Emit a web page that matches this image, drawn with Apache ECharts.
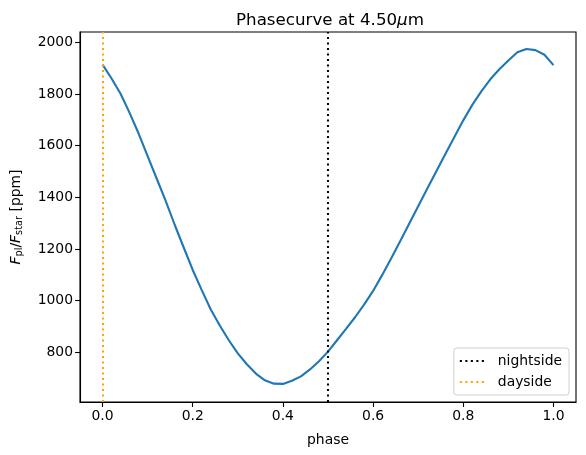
<!DOCTYPE html>
<html>
<head>
<meta charset="utf-8">
<script src="https://cdn.jsdelivr.net/npm/echarts@6/dist/echarts.min.js"></script>
<style>html,body{margin:0;padding:0;background:#fff;}#c{width:586px;height:455px;}</style>
</head>
<body>
<div id="c"></div>
<script>
const phase = [0.00,0.02,0.04,0.06,0.08,0.10,0.12,0.14,0.16,0.18,0.20,0.22,0.24,0.26,0.28,0.30,0.32,0.34,0.36,0.38,0.40,0.42,0.44,0.46,0.48,0.50,0.52,0.54,0.56,0.58,0.60,0.62,0.64,0.66,0.68,0.70,0.72,0.74,0.76,0.78,0.80,0.82,0.84,0.86,0.88,0.90,0.92,0.94,0.96,0.98,1.00];
const flux = [1914,1860,1801,1727,1647,1560,1473,1386,1294,1206,1119,1041,966,904,847,796,754,718,692,679,678,690,707,734,766,803,847,891,936,985,1038,1099,1163,1230,1298,1366,1433,1500,1567,1633,1698,1758,1810,1857,1896,1930,1962,1974,1970,1952,1912];
const nightsidePhase = [0.5];
const daysidePhase = [0.0];
const xTicks = [0.0,0.2,0.4,0.6,0.8,1.0];
const yTicks = [800,1000,1200,1400,1600,1800,2000];

const FONT = 'DejaVu Sans';
const FS = 13.9;
const dotted = [2.1,3.4];
const chart = echarts.init(document.getElementById('c'), null, {renderer:'canvas'});
chart.setOption({
  animation: false,
  backgroundColor: '#fff',
  textStyle: {fontFamily: FONT},
  title: {
    text: '{n|Phasecurve at 4.50}{i|μ}{n|m}',
    left: 325, top: 7, textAlign: 'center',
    textStyle: {
      fontWeight: 'normal',
      rich: {
        n: {fontFamily: FONT, fontSize: 16.7, fontWeight: 'normal', color: '#000'},
        i: {fontFamily: FONT, fontSize: 16.7, fontWeight: 'normal', fontStyle: 'italic', color: '#000'}
      }
    }
  },
  grid: {left: 80, top: 32, right: 10, bottom: 53, show: true, borderColor: '#000', borderWidth: 1.1, backgroundColor: 'transparent'},
  legend: {
    orient: 'vertical', right: 17, bottom: 60,
    data: ['nightside','dayside'],
    backgroundColor: 'rgba(255,255,255,0.8)', borderColor: '#d0d0d0', borderWidth: 1, borderRadius: 3,
    padding: [6, 7, 6, 5], itemGap: 7, itemWidth: 25, itemHeight: 12,
    itemStyle: {opacity: 0},
    textStyle: {fontFamily: FONT, fontSize: FS, color: '#000', padding: [0,0,0,8]}
  },
  xAxis: {
    type: 'value', min: -0.05, max: 1.05,
    name: 'phase', nameLocation: 'middle', nameGap: 31,
    nameTextStyle: {fontFamily: FONT, fontSize: FS, color: '#000'},
    axisLine: {show: true, onZero: false, lineStyle: {color: '#000', width: 1.1}},
    axisTick: {show: true, customValues: xTicks, length: 4.9, lineStyle: {color: '#000', width: 1.1}},
    axisLabel: {customValues: xTicks, formatter: v => v.toFixed(1), fontFamily: FONT, fontSize: FS, color: '#000', margin: 7},
    splitLine: {show: false}
  },
  yAxis: {
    type: 'value', min: 608, max: 2040,
    name: '{i|F}{s|pl}{n|/}{i|F}{s|star}{n| [ppm]}', nameLocation: 'middle', nameGap: 56, nameRotate: 90,
    nameTextStyle: {
      rich: {
        i: {fontFamily: FONT, fontSize: FS, fontStyle: 'italic', color: '#000', verticalAlign: 'middle'},
        n: {fontFamily: FONT, fontSize: FS, color: '#000', verticalAlign: 'middle'},
        s: {fontFamily: FONT, fontSize: 9.8, color: '#000', verticalAlign: 'bottom', padding: [6,0,0,0]}
      }
    },
    axisLine: {show: true, onZero: false, lineStyle: {color: '#000', width: 1.1}},
    axisTick: {show: true, customValues: yTicks, length: 4.9, lineStyle: {color: '#000', width: 1.1}},
    axisLabel: {customValues: yTicks, formatter: v => String(v), fontFamily: FONT, fontSize: FS, color: '#000', margin: 7},
    splitLine: {show: false}
  },
  series: [
    {
      type: 'line', name: 'curve', data: phase.map((p,i)=>[p, flux[i]]),
      showSymbol: false, symbol: 'none', smooth: false, z: 2,
      lineStyle: {color: '#1f77b4', width: 2.1}, itemStyle: {color: '#1f77b4'}
    },
    {
      type: 'line', name: 'nightside', data: [], symbol: 'none', z: 3,
      lineStyle: {color: '#000', type: dotted, width: 2.1}, itemStyle: {color: '#000'},
      markLine: {symbol: 'none', silent: true, label: {show: false},
        lineStyle: {color: '#000', type: dotted, width: 2.1},
        data: nightsidePhase.map(v => ({xAxis: v}))}
    },
    {
      type: 'line', name: 'dayside', data: [], symbol: 'none', z: 3,
      lineStyle: {color: '#ffa500', type: dotted, width: 2.1}, itemStyle: {color: '#ffa500'},
      markLine: {symbol: 'none', silent: true, label: {show: false},
        lineStyle: {color: '#ffa500', type: dotted, width: 2.1},
        data: daysidePhase.map(v => ({xAxis: v}))}
    }
  ]
});
</script>
</body>
</html>
